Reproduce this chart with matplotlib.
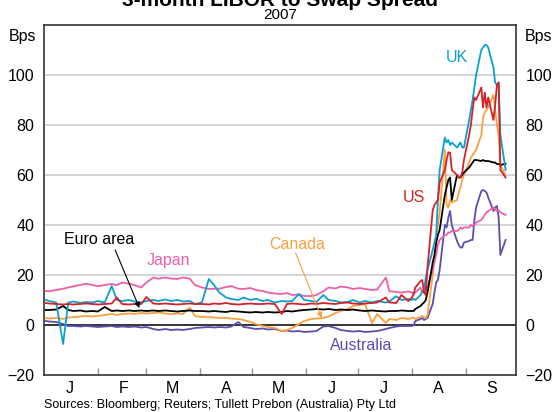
import matplotlib
matplotlib.use('Agg')
import matplotlib.pyplot as plt
import matplotlib.dates as mdates
import pandas as pd

plt.rcParams['font.family'] = ['Liberation Sans', 'DejaVu Sans']

dates = ['2007-01-02', '2007-01-04', '2007-01-08', '2007-01-12', '2007-01-15', '2007-01-18', '2007-01-22', '2007-01-25', '2007-01-29',
         '2007-02-01', '2007-02-05', '2007-02-09', '2007-02-12', '2007-02-15', '2007-02-19', '2007-02-22', '2007-02-26',
         '2007-03-01', '2007-03-05', '2007-03-08', '2007-03-12', '2007-03-15', '2007-03-19', '2007-03-22', '2007-03-26', '2007-03-29',
         '2007-04-02', '2007-04-06', '2007-04-09', '2007-04-12', '2007-04-16', '2007-04-19', '2007-04-23', '2007-04-26', '2007-04-30',
         '2007-05-03', '2007-05-07', '2007-05-10', '2007-05-14', '2007-05-18', '2007-05-21', '2007-05-24', '2007-05-28', '2007-05-31',
         '2007-06-04', '2007-06-07', '2007-06-11', '2007-06-14', '2007-06-18', '2007-06-21', '2007-06-25', '2007-06-28',
         '2007-07-02', '2007-07-05', '2007-07-09', '2007-07-12', '2007-07-17', '2007-07-19', '2007-07-23', '2007-07-26', '2007-07-30',
         '2007-08-01', '2007-08-02', '2007-08-03', '2007-08-06', '2007-08-07', '2007-08-08', '2007-08-09', '2007-08-10',
         '2007-08-13', '2007-08-14', '2007-08-15', '2007-08-16', '2007-08-17', '2007-08-20', '2007-08-21', '2007-08-22',
         '2007-08-23', '2007-08-24', '2007-08-27', '2007-08-28', '2007-08-29', '2007-08-30', '2007-08-31',
         '2007-09-03', '2007-09-04', '2007-09-05', '2007-09-06', '2007-09-07', '2007-09-10', '2007-09-11', '2007-09-12',
         '2007-09-13', '2007-09-14', '2007-09-17', '2007-09-18', '2007-09-19', '2007-09-20', '2007-09-21', '2007-09-24']

uk = [10, 9.6, 9, -7.6, 9, 9.4, 8.8, 9.2, 9,
      9.6, 9, 15.6, 10, 9.6, 10, 9.4, 9,
      9.6, 10, 9.6, 10.2, 9.6, 10, 9.4, 9.6, 8.4,
      9, 18.4, 16, 13, 11, 10.4, 10, 11, 10,
      10.5, 9.6, 10, 9, 9.6, 9.4, 9.6, 12.4, 10,
      9.6, 9.2, 12, 10, 9.6, 9, 9.2, 10,
      9, 9.6, 9, 9.6, 9, 9.4, 11.5, 10, 10.4,
      10, 10.5, 10, 12, 13.6, 14, 19, 22, 30, 33, 36, 50, 62, 75, 73, 74, 72, 73, 71, 72, 73, 71, 71,
      82, 86, 90, 95, 100, 110, 111, 112, 112, 111, 103, 97, 96, 97, 76, 62]

us = [8.8, 8.6, 8.4, 8.2, 8.4, 8.2, 8.4, 8.6, 8.4,
      8.2, 8.4, 8.6, 11, 8.4, 8.2, 8.4, 8.4,
      11.2, 8.6, 8.4, 8.6, 8.4, 8.2, 8.4, 8.6, 8.4,
      8.4, 8.2, 8.6, 8.4, 8.8, 8.4, 8.2, 8.4, 8.6,
      8.4, 8.4, 8.6, 8.4, 4.4, 8.4, 8.6, 8.4, 8.2,
      8.6, 8.4, 8.8, 8.6, 8.4, 8.8, 9, 8.6,
      8.4, 8.6, 8.8, 9, 11, 9, 8.8, 12, 9.6,
      11, 12.4, 15, 17.6, 18, 13, 12, 23, 46, 48, 49, 50, 57, 62, 66, 69, 69, 62, 60, 59, 59, 61, 66,
      76, 80, 86, 91, 90, 95, 87, 93, 87, 91, 82, 88, 96, 97, 62, 59]

euro = [6, 6, 6.2, 7.6, 6, 5.6, 5.8, 5.4, 5.6,
        5.4, 7.2, 5.6, 5.8, 5.6, 5.8, 5.6, 5.8,
        5.6, 5.8, 5.6, 5.8, 5.6, 5.4, 5.6, 5.8, 5.6,
        5.6, 5.4, 5.6, 5.4, 5.2, 5.6, 5.4, 5.2, 5,
        5.2, 5, 5.2, 5, 5.2, 5.6, 5.4, 5.8, 6,
        6.2, 6.4, 6.2, 6.4, 6, 6.2, 6, 6.2,
        5.8, 5.6, 5.8, 5.6, 5.4, 5.6, 5.6, 5.8, 5.6,
        5.6, 5.6, 6.4, 7.6, 8.4, 9, 10, 13, 25, 28, 33, 36, 38, 52, 55, 58, 59, 50, 60, 59, 59, 60, 61,
        63, 64, 65, 66, 66, 65.6, 66, 65.6, 65.6, 65.6, 65, 65, 64.4, 64.4, 64, 64.5]

japan = [13.6, 13.5, 14, 14.5, 15, 15.5, 16, 16.5, 16,
         15.5, 16, 16.4, 16, 17, 16.5, 16, 15,
         17, 19, 18.5, 19, 18.6, 18.4, 19, 18.5, 16,
         15, 14.4, 14.5, 14.5, 15.2, 15.6, 14.5, 14.4, 14.8,
         14, 13.6, 13, 12.6, 12.4, 12.8, 12, 12.2, 11.6,
         11.6, 12, 13.5, 15, 14.6, 15.4, 15, 14.4,
         14.8, 14.4, 14, 14.2, 19, 13.6, 13.2, 13, 13.4,
         13, 12.4, 13, 15, 13, 13, 16, 15, 22, 25, 28, 32, 34, 36, 36, 37, 37, 37.6, 37.6, 38, 39, 38.5, 39,
         39, 40, 39.5, 40, 41, 42, 43, 44, 45, 45.6, 47, 46, 45.6, 46, 45, 44]

canada = [2.8, 2.6, 2.8, 2.4, 3, 3.2, 3.4, 3.6, 3.4,
          3.6, 4, 4.4, 4, 4.4, 4.6, 4.4, 4.8,
          4.6, 4.8, 5, 4.6, 4.4, 4.6, 4.4, 7, 3.6,
          3.2, 3.2, 3, 2.8, 2.8, 2.6, 2.4, 2, 1.2,
          0.4, -0.4, -0.8, -1.2, -2.4, -2, -1.2, 0.4, 1.6,
          2.4, 2.6, 2.8, 3.4, 4.8, 5.6, 6.4, 7.6,
          8, 8.4, 0.8, 4.4, 0.8, 2.4, 2, 2.8, 2.4,
          2.8, 3, 2.4, 3.2, 3.6, 3, 2.8, 4, 20, 27, 32, 40, 45, 70, 48, 47, 50, 49, 50, 53, 55, 58, 60,
          65, 67, 68, 69, 70, 76, 83, 85, 86, 87, 92, 86, 80, 76, 64, 60]

australia = [1.6, 1.4, 1.2, 0.4, -0.4, -0.4, -0.6, -0.4, -0.6,
             -0.8, -0.6, -0.4, -0.8, -0.6, -0.8, -0.6, -1,
             -0.8, -1.6, -2, -1.6, -2, -1.8, -2, -1.6, -1.2,
             -1, -0.8, -1, -0.8, -1, -0.6, 1.2, -0.8, -1.2,
             -1.6, -1.4, -1.8, -1.6, -2.4, -2.2, -2.6, -2.4, -2.8,
             -2.6, -2.4, -0.6, -0.4, -1.2, -2, -2.4, -2.6,
             -2.4, -2.8, -2.6, -2.4, -1.6, -1.2, -0.6, -0.4, -0.4,
             -0.4, 0, 1.6, 2.4, 2.8, 2, 2.4, 2.8, 8.4, 13, 17, 18, 22, 40, 39, 43, 45.6, 40, 33.6, 32, 31, 31, 33,
             33.6, 34, 34, 42, 47, 53.6, 54, 53.6, 53, 51, 45.6, 47, 47.6, 43, 28, 34]

month_labels = ['J', 'F', 'M', 'A', 'M', 'J', 'J', 'A', 'S']
y_ticks = [-20, 0, 20, 40, 60, 80, 100]

x = pd.to_datetime(dates)

W, H = 556, 412
fig = plt.figure(figsize=(W / 100, H / 100), dpi=100)
ax = fig.add_axes([44 / W, 1 - 375 / H, (516 - 44) / W, (375 - 25) / H])

ax.set_xlim(pd.Timestamp('2007-01-01'), pd.Timestamp('2007-09-30'))
ax.set_ylim(-20, 120)

for v in [20, 40, 60, 80, 100]:
    ax.axhline(v, color='#c9ced3', lw=1.2, zorder=1)
ax.axhline(0, color='black', lw=1.1, zorder=1)

series = [
    (australia, '#5b4fae'),
    (canada, '#f9a043'),
    (japan, '#ee5fa7'),
    (euro, '#000000'),
    (uk, '#0aa0cf'),
    (us, '#d2232a'),
]
for vals, col in series:
    ax.plot(x, vals, color=col, lw=1.3, zorder=3)

ax.set_yticks(y_ticks)
ax.tick_params(axis='y', which='both', left=False, right=False, labelleft=True, labelright=True,
               length=0, pad=7, labelsize=11.5)

month_mid = pd.date_range('2007-01-01', periods=9, freq='MS') + pd.Timedelta(days=15)
ax.set_xticks(month_mid)
ax.set_xticklabels(month_labels)
ax.xaxis.set_minor_locator(mdates.MonthLocator(bymonth=range(2, 10)))
ax.tick_params(axis='x', which='major', length=0, pad=4, labelsize=11.5)
ax.tick_params(axis='x', which='minor', direction='in', length=5, width=1, color='#8a98a8', top=False)

for s in ax.spines.values():
    s.set_color('#333333')
    s.set_linewidth(1.2)

fs = 11.5
ax.text(pd.Timestamp('2007-08-27'), 107, 'UK', color='#0aa0cf', fontsize=fs, ha='center', va='center')
ax.text(pd.Timestamp('2007-08-02'), 51, 'US', color='#d2232a', fontsize=fs, ha='center', va='center')
ax.text(pd.Timestamp('2007-02-02'), 34.4, 'Euro area', color='black', fontsize=fs, ha='center', va='center')
ax.text(pd.Timestamp('2007-03-14'), 25.6, 'Japan', color='#ee5fa7', fontsize=fs, ha='center', va='center')
ax.text(pd.Timestamp('2007-05-27'), 32.4, 'Canada', color='#f9a043', fontsize=fs, ha='center', va='center')
ax.text(pd.Timestamp('2007-07-03'), -8.4, 'Australia', color='#5b4fae', fontsize=fs, ha='center', va='center')

ax.annotate('', xy=(pd.Timestamp('2007-02-25'), 6.8), xytext=(pd.Timestamp('2007-02-11'), 30),
            arrowprops=dict(arrowstyle='-|>', color='black', lw=0.8, mutation_scale=8, shrinkA=0, shrinkB=0),
            zorder=5)
ax.annotate('', xy=(pd.Timestamp('2007-06-10'), 2.8), xytext=(pd.Timestamp('2007-05-26'), 28.8),
            arrowprops=dict(arrowstyle='-|>', color='#f9a043', lw=0.8, mutation_scale=8, shrinkA=0, shrinkB=0),
            zorder=5)

fig.text(280 / W, 1 - 6 / H, '3-month LIBOR to Swap Spread', ha='center', va='baseline',
         fontsize=15, fontweight='bold')
fig.text(280 / W, 1 - 15 / H, '2007', ha='center', va='center', fontsize=11)
fig.text(23 / W, 1 - 36 / H, 'Bps', ha='center', va='center', fontsize=11.5)
fig.text(539 / W, 1 - 36 / H, 'Bps', ha='center', va='center', fontsize=11.5)
fig.text(44 / W, 1 - 405 / H, 'Sources: Bloomberg; Reuters; Tullett Prebon (Australia) Pty Ltd',
         ha='left', va='center', fontsize=9)

fig.savefig('out.png', dpi=100)
